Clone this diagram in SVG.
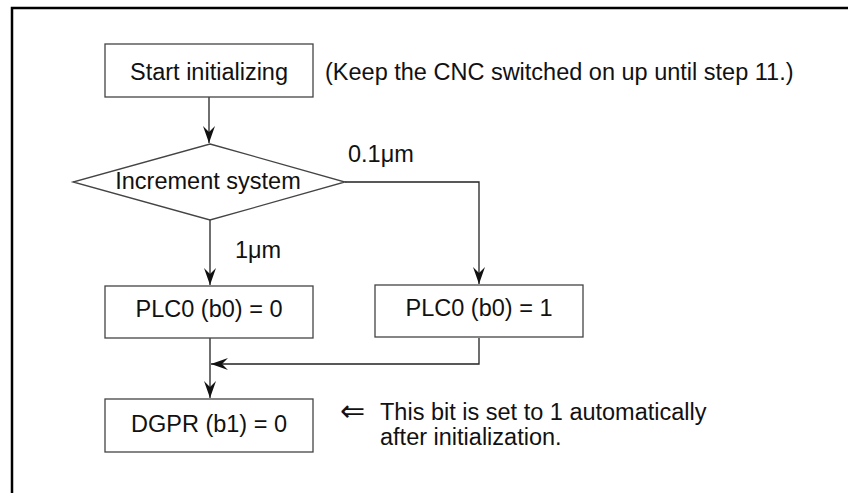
<svg xmlns="http://www.w3.org/2000/svg" width="848" height="493" viewBox="0 0 848 493">
<style>
  .box { fill: #fff; stroke: #444; stroke-width: 1.3; }
  .t { font-family: "Liberation Sans", Arial, sans-serif; font-size: 23.5px; fill: #111; }
  .c { text-anchor: middle; }
  .ln { fill: none; stroke: #222; stroke-width: 1.3; }
</style>
<defs>
  <marker id="ah" markerUnits="userSpaceOnUse" markerWidth="20" markerHeight="16" viewBox="-18 -8 20 16" refX="0" refY="0" orient="auto">
    <path d="M0,0 L-17,-6 L-11,0 L-17,6 Z" fill="#111"/>
  </marker>
</defs>
<rect width="848" height="493" fill="#fff"/>
<path d="M12,493 V8 H848" fill="none" stroke="#000" stroke-width="2.5"/>

<g id="connectors">
  <path class="ln" d="M209,97 V143" marker-end="url(#ah)"/>
  <path class="ln" d="M210,220 V285" marker-end="url(#ah)"/>
  <path class="ln" d="M345,182 H479 V284" marker-end="url(#ah)"/>
  <path class="ln" d="M479,338 V364 H211" marker-end="url(#ah)"/>
  <path class="ln" d="M210,338 V398" marker-end="url(#ah)"/>
  <text class="t" x="348" y="162">0.1μm</text>
  <text class="t" x="235" y="258">1μm</text>
</g>

<g id="start">
  <rect class="box" x="105" y="44" width="208" height="53"/>
  <text class="t c" x="209" y="80">Start initializing</text>
</g>
<g id="note-start">
  <text class="t" x="325" y="80">(Keep the CNC switched on up until step 11.)</text>
</g>

<g id="decision">
  <polygon class="box" points="210,144 345,182 210,220 73,182"/>
  <text class="t c" x="208" y="189">Increment system</text>
</g>

<g id="plc0-0">
  <rect class="box" x="105" y="286" width="208" height="52"/>
  <text class="t c" x="209" y="317">PLC0 (b0) = 0</text>
</g>

<g id="plc0-1">
  <rect class="box" x="375" y="285" width="208" height="52"/>
  <text class="t c" x="479" y="316">PLC0 (b0) = 1</text>
</g>

<g id="dgpr">
  <rect class="box" x="105" y="399" width="208" height="53"/>
  <text class="t c" x="209" y="432">DGPR (b1) = 0</text>
</g>

<g id="note-dgpr">
  <text x="340" y="421" font-family="'DejaVu Sans', sans-serif" font-size="30" fill="#111">⇐</text>
  <text class="t" x="380" y="420" font-size="23">This bit is set to 1 automatically</text>
  <text class="t" x="380" y="445" font-size="23">after initialization.</text>
</g>
</svg>
